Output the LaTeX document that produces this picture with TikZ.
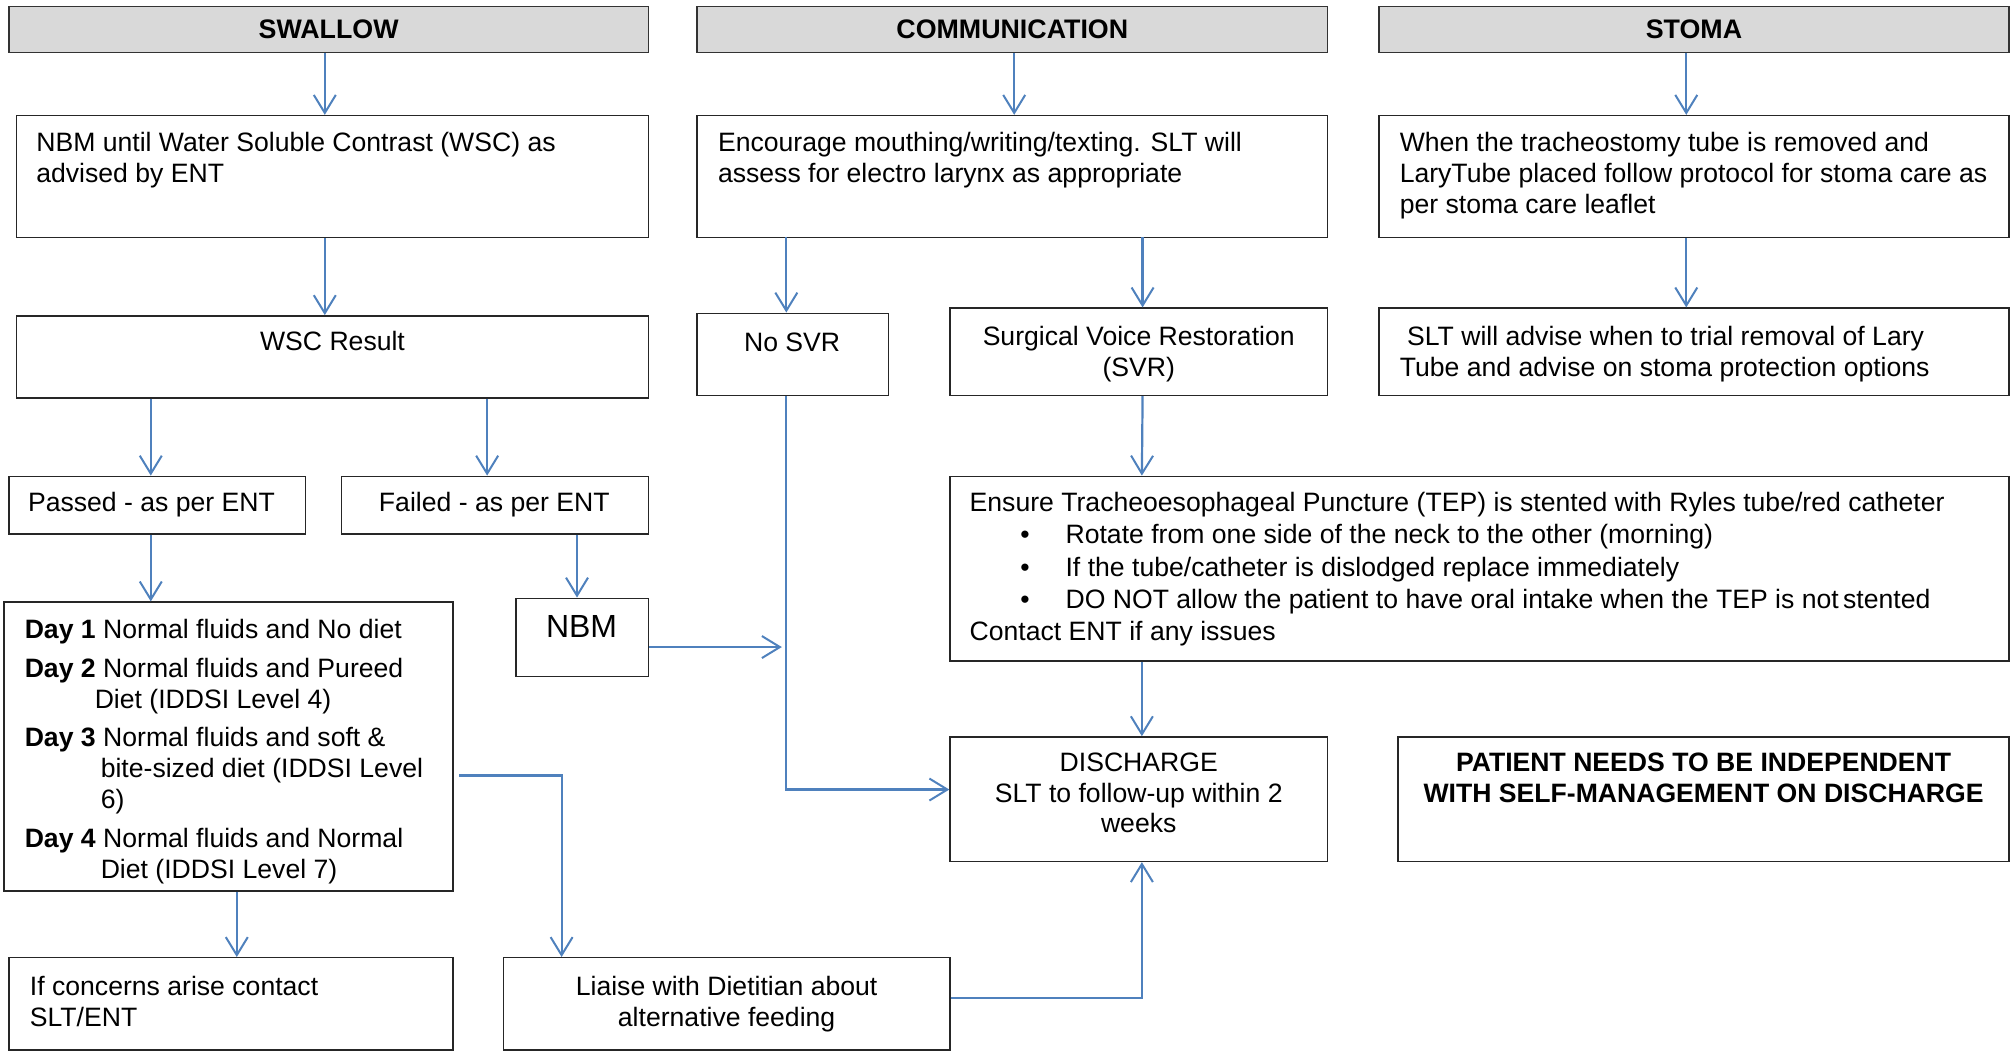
\documentclass[tikz,border=0pt]{standalone}
\usepackage{fontspec}
\setmainfont{Liberation Sans}
\usetikzlibrary{arrows.meta,fit,calc}
\definecolor{arrowblue}{HTML}{4F81BD}
\definecolor{hdrgray}{HTML}{D9D9D9}
\begin{document}
\begin{tikzpicture}[x=0.6419pt,y=-0.6419pt,
  hdr/.style={draw=black!80, line width=0.7pt, fill=hdrgray, inner sep=0pt},
  hdrtxt/.style={inner sep=0pt, font=\fontsize{13.4}{15}\selectfont\bfseries},
  box/.style={draw=black!85, line width=0.7pt, inner sep=0pt},
  txt/.style={font=\fontsize{13.3}{15.4}\selectfont, inner sep=0pt, align=left},
  tl/.style={txt, anchor=north west},
  tc/.style={txt, anchor=north, align=center},
  arr/.style={draw=arrowblue, line width=1.1pt,
    -{Straight Barb[length=9pt,width=11pt,line width=1pt]}},
]
\useasboundingbox (0,0) rectangle (1568,819);

% headers
\node[hdr, fit={(7,5)(505,41)}] (hs) {};
\node[hdrtxt] at (hs.center) {SWALLOW};
\node[hdr, fit={(543,5)(1034,41)}] (hc) {};
\node[hdrtxt] at (hc.center) {COMMUNICATION};
\node[hdr, fit={(1074,5)(1565,41)}] (hst) {};
\node[hdrtxt] at (hst.center) {STOMA};

% second row
\node[box, fit={(13,90)(505,185)}] (nbm1) {};
\node[tl] at (28,103) {NBM until Water Soluble Contrast (WSC) as\\advised by ENT};
\node[box, fit={(543,90)(1034,185)}] (comm) {};
\node[tl] at (559,103) {Encourage mouthing/writing/texting. SLT will\\assess for electro larynx as appropriate};
\node[box, fit={(1074,90)(1565,185)}] (stb) {};
\node[tl] at (1090,103) {When the tracheostomy tube is removed and\\LaryTube placed follow protocol for stoma care as\\per stoma care leaflet};

% third row
\node[box, fit={(13,246)(505,310)}] (wsc) {};
\node[tc] at (259,258) {WSC Result};
\node[box, fit={(543,244)(692,308)}] (nosvr) {};
\node[tc] at (617,259) {No SVR};
\node[box, fit={(740,240)(1034,308)}] (svr) {};
\node[tc] at (887,254) {Surgical Voice Restoration\\(SVR)};
\node[box, fit={(1074,240)(1565,308)}] (slt) {};
\node[tl] at (1090,254) {\ SLT will advise when to trial removal of Lary\\Tube and advise on stoma protection options};

% fourth row
\node[box, fit={(7,371)(238,416)}] (passed) {};
\node[tc] at (118,383) {Passed - as per ENT};
\node[box, fit={(266,371)(505,416)}] (failed) {};
\node[tc] at (385,383) {Failed - as per ENT};
\node[box, fit={(740,371)(1565,515)}] (tep) {};
\node[txt, anchor=north west, font=\fontsize{13.3}{16.2}\selectfont] at (755,383)
  {Ensure Tracheoesophageal Puncture (TEP) is stented with Ryles tube/red catheter\\
   \hspace*{25.3pt}\textbullet\hspace*{18pt}Rotate from one side of the neck to the other (morning)\\
   \hspace*{25.3pt}\textbullet\hspace*{18pt}If the tube/catheter is dislodged replace immediately\\
   \hspace*{25.3pt}\textbullet\hspace*{18pt}DO NOT allow the patient to have oral intake when the TEP is not\,stented\\
   Contact ENT if any issues};

% fifth row
\node[box, fit={(3,469)(353,694)}] (day) {};
\node[tl] at (19,482) {\textbf{Day 1} Normal fluids and No diet\\[4pt]
  \textbf{Day 2} Normal fluids and Pureed\\\hspace*{35pt}Diet (IDDSI Level 4)\\[4pt]
  \textbf{Day 3} Normal fluids and soft \&\\\hspace*{38pt}bite-sized diet (IDDSI Level\\\hspace*{38pt}6)\\[4pt]
  \textbf{Day 4} Normal fluids and Normal\\\hspace*{38pt}Diet (IDDSI Level 7)};
\node[box, fit={(402,466)(505,527)}] (nbm) {};
\node[txt, anchor=north, font=\fontsize{16}{19}\selectfont] at (453,479) {NBM};
\node[box, fit={(740,574)(1034,671)}] (disch) {};
\node[tc] at (887,586) {DISCHARGE\\SLT to follow-up within 2\\weeks};
\node[box, fit={(1089,574)(1565,671)}] (pat) {};
\node[tc, font=\fontsize{13.3}{15.4}\selectfont\bfseries] at (1327,586) {PATIENT NEEDS TO BE INDEPENDENT\\WITH SELF-MANAGEMENT ON DISCHARGE};

% bottom row
\node[box, fit={(7,746)(353,818)}] (ifc) {};
\node[tl] at (23,760) {If concerns arise contact\\SLT/ENT};
\node[box, fit={(392,746)(740,818)}] (liaise) {};
\node[tc] at (566,760) {Liaise with Dietitian about\\alternative feeding};

\coordinate (j) at (612,504);

% connectors
\draw[arr] ($(hs.south)+(-3,0)$) -- ($(hs.south |- nbm1.north)+(-3,0)$);
\draw[arr] ($(hc.south)+(1.5,0)$) -- ($(hc.south |- comm.north)+(1.5,0)$);
\draw[arr] ($(hst.south)+(-6,0)$) -- ($(hst.south |- stb.north)+(-6,0)$);
\draw[arr] ($(hs.south |- nbm1.south)+(-3,0)$) -- ($(hs.south |- wsc.north)+(-3,0)$);
\draw[arr] ($(nosvr.north)+(-5,-59)$) -- ($(nosvr.north)+(-5,0)$);
\draw[arr] ($(svr.north)+(3,-55)$) -- ($(svr.north)+(3,0)$);
\draw[arr] ($(stb.south)+(-6,0)$) -- ($(slt.north)+(-6,0)$);
\draw[arr] ($(wsc.south west)+(105,0)$) -- ($(passed.north west)+(111,0)$);
\draw[arr] ($(wsc.south west)+(367,0)$) -- ($(failed.north west)+(114,0)$);
\draw[arr] ($(svr.south)+(3,0)$) -- ($(tep.north west)+(150,0)$);
\draw[arr] ($(passed.south west)+(111,0)$) -- ($(day.north west)+(115,0)$);
\draw[arr] ($(failed.south west)+(184,0)$) -- ($(nbm.north west)+(48,0)$);
\draw[arr] ($(nbm.east)+(0,7.5)$) -- ($(j)+(-3,0)$);
\draw[arr] ($(nosvr.south)+(-5,0)$) |- ($(disch.west)+(0,-7.5)$);
\draw[arr] ($(tep.south west)+(150,0)$) -- ($(disch.north west)+(150,0)$);
\draw[arr] ($(day.south west)+(182,0)$) -- ($(ifc.north west)+(178,0)$);
\draw[arr] ($(day.east)+(4,22.5)$) -| ($(liaise.north west)+(46,0)$);
\draw[arr] ($(liaise.east)+(0,-4.5)$) -| ($(disch.south west)+(150,0)$);
\end{tikzpicture}
\end{document}
